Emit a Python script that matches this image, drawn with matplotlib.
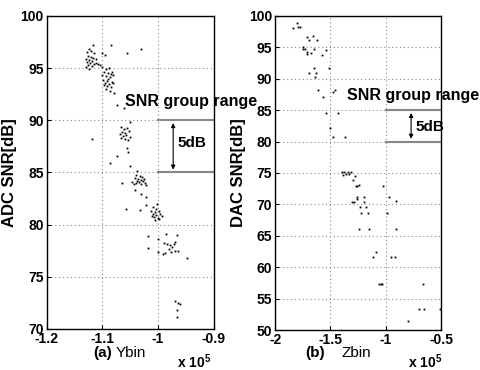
import matplotlib
matplotlib.use("Agg")
import matplotlib.pyplot as plt

plt.rcParams['font.family'] = ['Liberation Sans', 'DejaVu Sans']
plt.rcParams['mathtext.fontset'] = 'custom'
plt.rcParams['mathtext.rm'] = 'Liberation Sans:bold'
plt.rcParams['mathtext.bf'] = 'Liberation Sans:bold'

# ADC panel (a): Ybin in units of 1e5, SNR in dB
ybin = [-1.116, -1.124, -1.128, -1.120, -1.114, -1.126, -1.121, -1.117, -1.130, -1.124,
        -1.112, -1.119, -1.128, -1.122, -1.115, -1.125, -1.129, -1.118, -1.123, -1.111,
        -1.108, -1.104, -1.101, -1.096, -1.085, -1.055, -1.030,
        -1.100, -1.094, -1.088, -1.097, -1.090, -1.084, -1.101, -1.093, -1.086, -1.080,
        -1.098, -1.091, -1.083, -1.095, -1.088, -1.080, -1.092, -1.085, -1.093, -1.086,
        -1.079, -1.097, -1.089, -1.082,
        -1.073, -1.062, -1.118,
        -1.050, -1.067, -1.061, -1.056, -1.065, -1.059, -1.052, -1.069, -1.063, -1.057,
        -1.051, -1.066, -1.054, -1.060,
        -1.055, -1.054, -1.074, -1.086, -1.050,
        -1.037, -1.039, -1.033, -1.028, -1.042, -1.036, -1.030, -1.025, -1.046, -1.040,
        -1.034, -1.027, -1.021, -1.043, -1.031, -1.037, -1.024, -1.064,
        -1.042, -1.030, -1.022, -1.057, -1.032, -1.021,
        -1.002, -1.009, -1.004, -1.012, -1.006, -0.999, -1.010, -1.003, -0.997, -1.008,
        -1.001, -0.993, -1.005, -0.998, -1.011,
        -1.019, -1.019, -1.000, -1.000, -0.986, -0.966,
        -0.990, -0.984, -0.978, -0.975, -0.972, -0.981, -0.987, -0.992, -0.977, -0.969,
        -0.964, -0.970, -0.949,
        -0.969, -0.964, -0.961, -0.966, -0.967]
adc_snr = [97.2, 96.8, 96.5, 96.6, 96.4, 96.2, 96.1, 96.0, 95.9, 95.8,
           95.9, 95.7, 95.6, 95.5, 95.4, 95.3, 95.1, 95.2, 94.9, 95.5,
           95.4, 95.3, 96.4, 96.3, 97.2, 96.4, 96.8,
           95.1, 94.9, 95.0, 94.6, 94.5, 94.4, 94.3, 94.2, 94.1, 94.3,
           93.9, 93.8, 93.7, 93.6, 93.5, 93.6, 93.3, 93.2, 93.0, 92.8,
           92.6, 93.4, 94.0, 94.6,
           91.5, 91.2, 88.2,
           89.8, 89.4, 89.2, 89.3, 88.9, 88.8, 89.0, 88.7, 88.5, 88.6,
           88.4, 88.3, 88.1, 88.2,
           87.3, 87.0, 86.6, 85.9, 85.6,
           85.1, 84.8, 84.7, 84.6, 84.5, 84.4, 84.3, 84.4, 84.1, 84.0,
           84.1, 84.2, 83.8, 83.9, 83.9, 84.2, 84.0, 84.0,
           83.3, 82.9, 82.6, 81.5, 81.4, 81.9,
           82.0, 81.7, 81.5, 81.3, 81.2, 81.3, 81.0, 80.9, 81.0, 80.7,
           80.6, 80.8, 80.4, 80.5, 80.8,
           78.9, 77.8, 78.6, 77.4, 79.1, 79.0,
           78.2, 78.1, 78.0, 77.9, 78.1, 77.7, 77.3, 77.2, 77.4, 77.5,
           77.5, 78.3, 76.8,
           72.7, 72.5, 72.4, 71.8, 71.1]

# DAC panel (b): Zbin in units of 1e5, SNR in dB
zbin = [-1.843, -1.804, -1.789, -1.774, -1.714, -1.690, -1.660, -1.623, -1.744, -1.729,
        -1.750, -1.714, -1.714, -1.678, -1.648, -1.539, -1.572, -1.509, -1.648, -1.693,
        -1.630, -1.639, -1.617, -1.569, -1.479, -1.458, -1.539, -1.434, -1.503, -1.473,
        -1.367,
        -1.395, -1.375, -1.345, -1.330, -1.315, -1.385, -1.355, -1.277, -1.292, -1.271,
        -1.262, -1.238,
        -1.301, -1.286, -1.262, -1.256, -1.200, -1.193, -1.232, -1.181, -1.226, -1.157,
        -1.238, -1.151,
        -1.027, -0.967, -0.910, -0.991, -0.907, -1.084, -1.111, -0.955, -0.913,
        -1.057, -1.045, -1.036, -0.660, -0.699, -0.651, -0.509, -0.795]
dac_snr = [98.1, 98.9, 98.3, 98.3, 96.7, 96.1, 96.8, 96.1, 95.1, 94.8,
           94.7, 94.3, 93.9, 94.1, 94.8, 94.5, 93.7, 91.7, 91.7, 90.9,
           90.9, 90.3, 88.2, 87.1, 87.9, 88.2, 84.5, 84.5, 82.2, 80.7,
           80.7,
           75.2, 75.2, 75.2, 74.8, 75.1, 74.6, 74.8, 74.5, 73.9, 73.0,
           73.0, 73.1,
           70.4, 70.4, 71.2, 70.8, 70.4, 71.2, 69.6, 69.6, 68.6, 68.6,
           66.1, 66.1,
           73.0, 71.2, 70.5, 68.7, 66.1, 62.4, 61.6, 61.6, 61.6,
           57.3, 57.3, 57.3, 57.3, 53.3, 53.3, 53.3, 51.5]

a_xticks = [-1.2, -1.1, -1.0, -0.9]
a_xlabels = ['-1.2', '-1.1', '-1', '-0.9']
a_yticks = [70, 75, 80, 85, 90, 95, 100]
b_xticks = [-2.0, -1.5, -1.0, -0.5]
b_xlabels = ['-2', '-1.5', '-1', '-0.5']
b_yticks = [50, 55, 60, 65, 70, 75, 80, 85, 90, 95, 100]

fig = plt.figure(figsize=(4.81, 3.70), dpi=100)
ax1 = fig.add_axes([0.0967, 0.111, 0.348, 0.846])
ax2 = fig.add_axes([0.572, 0.108, 0.345, 0.849])


def style(ax, xt, xl, yt):
    ax.set_xticks(xt)
    ax.set_xticklabels(xl)
    ax.set_yticks(yt)
    ax.set_yticklabels([str(v) for v in yt])
    ax.grid(True, linestyle=(0, (1, 2.5)), color='#888888', linewidth=0.8)
    ax.tick_params(direction='in', length=3, labelsize=10, pad=2, width=0.8)
    for lab in ax.get_xticklabels() + ax.get_yticklabels():
        lab.set_fontweight('bold')
    for sp in ax.spines.values():
        sp.set_linewidth(1.0)


# panel (a)
ax1.plot(ybin, adc_snr, 's', color='k', markersize=1.3, markeredgewidth=0)
ax1.set_xlim(-1.2, -0.9)
ax1.set_ylim(70, 100)
style(ax1, a_xticks, a_xlabels, a_yticks)
ax1.set_ylabel('ADC SNR[dB]', fontsize=12, fontweight='bold')
ax1.yaxis.set_label_coords(-0.176, 0.5)
ax1.plot([-1.0, -0.9], [90, 90], color='#888888', linewidth=1.5)
ax1.plot([-1.0, -0.9], [85, 85], color='#888888', linewidth=1.5)
ax1.annotate('', xy=(-0.973, 85), xytext=(-0.973, 90),
             arrowprops=dict(arrowstyle='<|-|>', color='k', lw=0.8, mutation_scale=6))
ax1.text(-1.059, 91.4, 'SNR group range', fontsize=11.5, fontweight='bold',
         va='baseline', clip_on=False)
ax1.text(-0.965, 87.8, '5dB', fontsize=11, fontweight='bold', va='center')

# panel (b)
ax2.plot(zbin, dac_snr, 's', color='k', markersize=1.3, markeredgewidth=0)
ax2.set_xlim(-2, -0.5)
ax2.set_ylim(50, 100)
style(ax2, b_xticks, b_xlabels, b_yticks)
ax2.set_ylabel('DAC SNR[dB]', fontsize=12, fontweight='bold')
ax2.yaxis.set_label_coords(-0.175, 0.5)
ax2.plot([-1.0, -0.5], [85, 85], color='#888888', linewidth=1.5)
ax2.plot([-1.0, -0.5], [80, 80], color='#888888', linewidth=1.5)
ax2.annotate('', xy=(-0.771, 80), xytext=(-0.771, 85),
             arrowprops=dict(arrowstyle='<|-|>', color='k', lw=0.8, mutation_scale=6))
ax2.text(-1.35, 86.6, 'SNR group range', fontsize=11.5, fontweight='bold',
         va='baseline', clip_on=False)
ax2.text(-0.735, 82.3, '5dB', fontsize=11, fontweight='bold', va='center',
         clip_on=False)

# x labels and exponent texts
fig.text(93 / 481, 1 - 353 / 370, '(a)', fontsize=11, fontweight='bold', va='center')
fig.text(116 / 481, 1 - 353 / 370, 'Ybin', fontsize=11, va='center')
fig.text(305 / 481, 1 - 353 / 370, '(b)', fontsize=11, fontweight='bold', va='center')
fig.text(342 / 481, 1 - 353 / 370, 'Zbin', fontsize=11, va='center')
fig.text(177 / 481, 1 - 362 / 370, r'x 10$^{5}$', fontsize=10, fontweight='bold', va='center')
fig.text(408 / 481, 1 - 362 / 370, r'x 10$^{5}$', fontsize=10, fontweight='bold', va='center')

fig.savefig('out.png', dpi=100)
